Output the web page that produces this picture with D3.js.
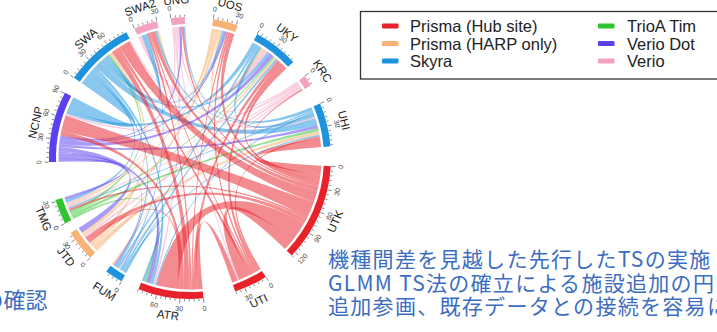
<!DOCTYPE html>
<html>
<head>
<meta charset="utf-8">
<script src="https://cdn.jsdelivr.net/npm/d3@7"></script>
<style>
  html, body { margin: 0; padding: 0; background: #fff; overflow: hidden; }
  svg { display: block; font-family: "Liberation Sans", Arial, sans-serif; }
</style>
</head>
<body>
<svg id="chart" width="717" height="332"></svg>
<script>
// Sites around the circle, clockwise from the top
const sites = ["UOS", "UKY", "KRC", "UHI", "UTK", "UTI", "ATR", "FUM", "JTD", "TMG", "NCNP", "SWA", "SWA2", "UNG"];
// Scanner model installed at each site (same order as sites)
const siteScanner = [
  "Prisma (HARP only)", "Skyra", "Verio", "Skyra", "Prisma (Hub site)", "Prisma (Hub site)",
  "Prisma (Hub site)", "Skyra", "Prisma (HARP only)", "TrioA Tim", "Verio Dot", "Skyra", "Verio", "Verio"
];
// Scanner models (legend order) and their colours
const scanners = ["Prisma (Hub site)", "Prisma (HARP only)", "Skyra", "TrioA Tim", "Verio Dot", "Verio"];
const scannerColors = ["#e8222b", "#f7b375", "#1d93de", "#2ec52e", "#5a40ee", "#f3a2c2"];

// Traveling subjects shared by two sites: [colouring site, other site, count]
const links = [
  ["UOS", "UKY", 4], ["UOS", "JTD", 5], ["UOS", "TMG", 3], ["UOS", "SWA2", 3],
  ["JTD", "UHI", 5], ["JTD", "UKY", 3], ["JTD", "FUM", 3], ["JTD", "SWA", 4],
  ["KRC", "NCNP", 3], ["KRC", "JTD", 3], ["KRC", "TMG", 2], ["KRC", "FUM", 2], ["KRC", "SWA", 2],
  ["UNG", "ATR", 3], ["UNG", "UKY", 3], ["UNG", "UTI", 2], ["UNG", "TMG", 2],
  ["SWA2", "UKY", 3], ["SWA2", "UHI", 2],
  ["TMG", "ATR", 3], ["TMG", "SWA", 3], ["TMG", "UHI", 4], ["TMG", "UKY", 2],
  ["UKY", "NCNP", 6], ["UKY", "UHI", 5], ["UKY", "FUM", 3],
  ["UHI", "ATR", 2], ["UHI", "TMG", 2], ["UHI", "SWA2", 3], ["UHI", "UNG", 2],
  ["FUM", "ATR", 3], ["FUM", "UKY", 3], ["FUM", "SWA2", 2], ["FUM", "UHI", 2],
  ["SWA", "NCNP", 18], ["SWA", "ATR", 4], ["SWA", "UHI", 10], ["SWA", "UKY", 4],
  ["SWA", "SWA2", 6], ["SWA", "TMG", 4], ["SWA", "UOS", 3], ["SWA", "FUM", 3],
  ["NCNP", "ATR", 6], ["NCNP", "UKY", 6], ["NCNP", "UOS", 3], ["NCNP", "UNG", 3],
  ["NCNP", "JTD", 8], ["NCNP", "UHI", 4], ["NCNP", "TMG", 4], ["NCNP", "FUM", 2],
  ["UTI", "UKY", 5], ["UTI", "UOS", 3], ["UTI", "SWA", 4], ["UTI", "UHI", 3], ["UTI", "SWA2", 2],
  ["ATR", "NCNP", 6], ["ATR", "SWA", 8], ["ATR", "SWA2", 3], ["ATR", "UKY", 5],
  ["ATR", "UOS", 2], ["ATR", "JTD", 3], ["ATR", "UTI", 8],
  ["UTK", "NCNP", 22], ["UTK", "SWA", 16], ["UTK", "SWA2", 6], ["UTK", "UKY", 6],
  ["UTK", "UOS", 6], ["UTK", "UHI", 12], ["UTK", "JTD", 6], ["UTK", "TMG", 3],
  ["UTK", "UNG", 3], ["UTK", "KRC", 2], ["UTK", "ATR", 28], ["UTK", "UTI", 16]
];

const tickMinor = 6;
const tickMajor = 30;

const legendLeft = scanners.slice(0, 3);
const legendRight = scanners.slice(3);

const noteLines = [
  "機種間差を見越した先行したTSの実施",
  "GLMM TS法の確立による施設追加の円",
  "追加参画、既存データとの接続を容易に"
];
const sideNote = "の確認";

// ---------- layout ----------
const svg = d3.select("#chart");
const cx = 190, cy = 158;
const rOuter = 141, rInner = 134, rRibbon = 131.5;
const startDeg = 9.5;
// spacing (degrees) after each site's arc
const gapDeg = [8.7, 7.4, 8.3, 8.1, 13.7, 13.2, 7.6, 8.6, 4.5, 15.7, 7.1, 3.6, 5.7, 11.6];
const rad = Math.PI / 180;

const color = d3.scaleOrdinal().domain(scanners).range(scannerColors);
const siteColor = s => color(siteScanner[sites.indexOf(s)]);
const idx = new Map(sites.map((s, i) => [s, i]));

const totals = sites.map(() => 0);
links.forEach(([s, t, v]) => { totals[idx.get(s)] += v; totals[idx.get(t)] += v; });
const unitDeg = (360 - d3.sum(gapDeg)) / d3.sum(totals);

const groups = [];
let a0 = startDeg;
sites.forEach((s, i) => {
  const span = totals[i] * unitDeg;
  groups.push({
    name: s, total: totals[i], start: a0, end: a0 + span,
    angle: d3.scaleLinear().domain([0, totals[i]]).range([a0 * rad, (a0 + span) * rad])
  });
  a0 += span + gapDeg[i];
});

// place each link end inside its site's arc: own links first, then received ones,
// each ordered so that neighbouring ribbons cross as little as possible
const ends = sites.map(() => []);
links.forEach(([s, t, v], li) => {
  ends[idx.get(s)].push({ li, other: idx.get(t), v, out: 1 });
  ends[idx.get(t)].push({ li, other: idx.get(s), v, out: 0 });
});
const mid = g => (g.start + g.end) / 2;
const chords = links.map(l => ({ src: l[0] }));
ends.forEach((list, gi) => {
  const g = groups[gi];
  list.forEach(e => { e.off = (((mid(groups[e.other]) - mid(g)) % 360) + 360) % 360; });
  list.sort((p, q) => (q.out - p.out) || (q.off - p.off));
  let acc = 0;
  list.forEach(e => {
    const seg = { startAngle: g.angle(acc), endAngle: g.angle(acc + e.v) };
    acc += e.v;
    chords[e.li][e.out ? "source" : "target"] = seg;
  });
});

const root = svg.append("g").attr("transform", `translate(${cx},${cy})`);

// ribbons
const ribbon = d3.ribbon().radius(rRibbon);
root.append("g")
  .selectAll("path")
  .data(chords)
  .join("path")
  .attr("d", ribbon)
  .attr("fill", d => siteColor(d.src))
  .attr("fill-opacity", 0.52);

// site arcs
const arc = d3.arc().innerRadius(rInner).outerRadius(rOuter);
root.append("g")
  .selectAll("path")
  .data(groups)
  .join("path")
  .attr("d", g => arc({ startAngle: g.start * rad, endAngle: g.end * rad }))
  .attr("fill", g => siteColor(g.name));

// text placed along the circle, turned so it never reads upside down
function facing(theta, r) {
  const deg = ((theta / rad) % 360 + 360) % 360;
  const flip = deg > 90 && deg < 270;
  const x = r * Math.sin(theta), y = -r * Math.cos(theta);
  return `translate(${x},${y}) rotate(${flip ? deg - 180 : deg})`;
}

// ticks and tick labels
const tickG = root.append("g");
groups.forEach(g => {
  const vals = d3.range(0, g.total + 1e-6, tickMinor);
  vals.forEach(v => {
    const th = g.angle(v);
    const major = v % tickMajor === 0;
    const r2 = rOuter + (major ? 4.5 : 2.5);
    tickG.append("line")
      .attr("x1", (rOuter + 0.3) * Math.sin(th)).attr("y1", -(rOuter + 0.3) * Math.cos(th))
      .attr("x2", r2 * Math.sin(th)).attr("y2", -r2 * Math.cos(th))
      .attr("stroke", "#555").attr("stroke-width", 0.7);
    if (major) {
      tickG.append("text")
        .attr("transform", facing(th, 151))
        .attr("text-anchor", "middle")
        .attr("dominant-baseline", "central")
        .attr("font-size", 7)
        .attr("fill", "#444")
        .text(v);
    }
  });
});

// site names
root.append("g")
  .selectAll("text")
  .data(groups)
  .join("text")
  .attr("transform", g => facing(mid(g) * rad, 158.5))
  .attr("text-anchor", "middle")
  .attr("dominant-baseline", "central")
  .attr("font-size", 11.5)
  .attr("fill", "#222")
  .text(g => g.name);

// legend
const legend = svg.append("g");
legend.append("rect")
  .attr("x", 360.5).attr("y", 11.5).attr("width", 380).attr("height", 67.5)
  .attr("fill", "#fff").attr("stroke", "#333").attr("stroke-width", 1.3);
const rowY = d3.scalePoint().domain([0, 1, 2]).range([26, 61]);
[[legendLeft, 382, 410], [legendRight, 598, 627]].forEach(([items, sx, tx]) => {
  items.forEach((name, i) => {
    legend.append("rect")
      .attr("x", sx).attr("y", rowY(i) - 2.5).attr("width", 16.5).attr("height", 5)
      .attr("rx", 1).attr("fill", color(name));
    legend.append("text")
      .attr("x", tx).attr("y", rowY(i))
      .attr("dominant-baseline", "central")
      .attr("font-size", 16.5).attr("fill", "#222")
      .text(name);
  });
});

// notes
const noteFont = '"Noto Sans CJK JP", "Noto Sans", sans-serif';
svg.append("g")
  .selectAll("text")
  .data(noteLines)
  .join("text")
  .attr("x", 328)
  .attr("y", (d, i) => 258 + i * 23.7)
  .attr("dominant-baseline", "central")
  .attr("font-family", noteFont)
  .attr("font-size", 21)
  .attr("letter-spacing", 1.3)
  .attr("fill", "#3b6dc2")
  .text(d => d);

svg.append("text")
  .attr("x", 47.5).attr("y", 297.5)
  .attr("text-anchor", "end")
  .attr("dominant-baseline", "central")
  .attr("font-family", noteFont)
  .attr("font-size", 22)
  .attr("fill", "#3b6dc2")
  .text(sideNote);
</script>
</body>
</html>
